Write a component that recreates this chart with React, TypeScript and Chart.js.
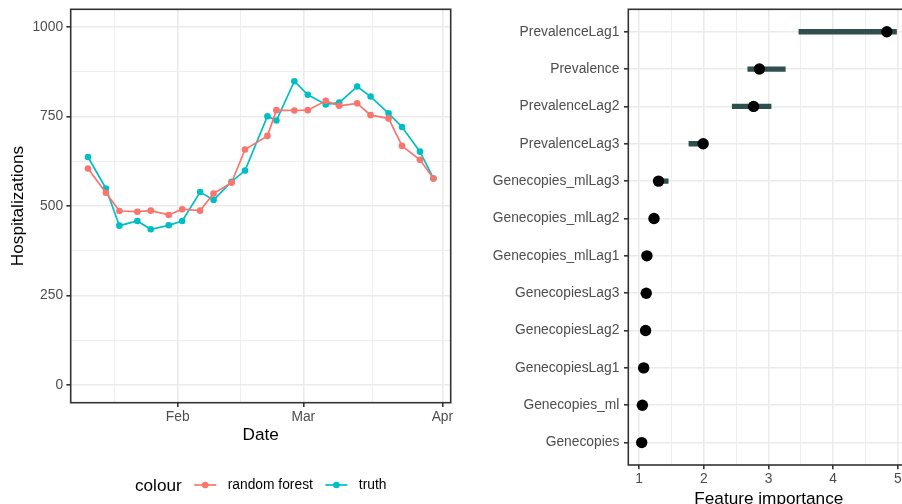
import React, { useEffect, useRef } from 'react';
import { Chart, registerables } from 'chart.js';

Chart.register(...registerables);

// ---------- Left panel data ----------
const dates = [
  '2021-01-12', '2021-01-16', '2021-01-19', '2021-01-23', '2021-01-26', '2021-01-30',
  '2021-02-02', '2021-02-06', '2021-02-09', '2021-02-13', '2021-02-16', '2021-02-21',
  '2021-02-23', '2021-02-27', '2021-03-02', '2021-03-06', '2021-03-09', '2021-03-13',
  '2021-03-16', '2021-03-20', '2021-03-23', '2021-03-27', '2021-03-30',
];
const randomForest = [605, 537, 486, 484, 487, 475, 491, 487, 535, 565, 658, 696, 768, 767, 768, 794, 780, 787, 754, 745, 668, 629, 577];
const truth = [637, 549, 445, 458, 435, 446, 458, 539, 517, 568, 599, 751, 739, 849, 811, 784, 789, 834, 806, 759, 721, 652, 577];
const dateTickDates = ['2021-02-01', '2021-03-01', '2021-04-01'];
const dateTickLabels = ['Feb', 'Mar', 'Apr'];
const hospTicks = [0, 250, 500, 750, 1000];
const hospLimits = [0, 1000];
const legendTitle = 'colour';
const legendLabels = ['random forest', 'truth'];

// ---------- Right panel data ----------
const features = [
  'PrevalenceLag1', 'Prevalence', 'PrevalenceLag2', 'PrevalenceLag3',
  'Genecopies_mlLag3', 'Genecopies_mlLag2', 'Genecopies_mlLag1', 'GenecopiesLag3',
  'GenecopiesLag2', 'GenecopiesLag1', 'Genecopies_ml', 'Genecopies',
];
const importance = [4.83, 2.86, 2.77, 1.99, 1.30, 1.23, 1.12, 1.11, 1.10, 1.07, 1.05, 1.04];
const importanceLow = [3.47, 2.68, 2.44, 1.77, 1.25, 1.19, 1.09, 1.08, 1.07, 1.04, 1.03, 1.03];
const importanceHigh = [4.98, 3.26, 3.04, 2.02, 1.45, 1.27, 1.15, 1.14, 1.13, 1.10, 1.08, 1.06];
const importanceTicks = [1, 2, 3, 4, 5];

// ---------- Styles ----------
const FONT = '"Liberation Sans", Arial, Helvetica, sans-serif';
const TICK_FONT = { family: FONT, size: 13.8 };
const TITLE_FONT = { family: FONT, size: 17.2 };
const GRID = '#EBEBEB';
const DARK = '#333333';
const TICK_TEXT = '#4D4D4D';
const RF_COLOR = '#F8766D';
const TRUTH_COLOR = '#00BFC4';
const BAR_COLOR = '#2F4F4F';
const CLEAR = 'rgba(0,0,0,0)';

const dayOf = (s: string) =>
  (Date.parse(s + 'T00:00:00Z') - Date.parse('2021-01-01T00:00:00Z')) / 86400000;

function minorBreaks(majors: number[], min: number, max: number) {
  const b = [...majors];
  const bd = b[1] - b[0];
  if (min < b[0]) b.unshift(b[0] - bd);
  if (max > b[b.length - 1]) b.push(b[b.length - 1] + bd);
  const out: number[] = [];
  for (let i = 0; i < b.length - 1; i++) {
    const m = (b[i] + b[i + 1]) / 2;
    if (m >= min && m <= max) out.push(m);
  }
  return out;
}

const expand = (lo: number, hi: number) => {
  const e = 0.05 * (hi - lo);
  return [lo - e, hi + e];
};

const panelBorder = {
  id: 'panelBorder',
  afterDatasetsDraw(chart: any) {
    const { ctx, chartArea: a } = chart;
    ctx.save();
    ctx.strokeStyle = DARK;
    ctx.lineWidth = 1.6;
    ctx.strokeRect(a.left, a.top, a.right - a.left, a.bottom - a.top);
    ctx.restore();
  },
};

const legendPlugin = {
  id: 'ggLegend',
  afterDraw(chart: any) {
    const { ctx, chartArea: a } = chart;
    const cy = 485;
    const colors = [RF_COLOR, TRUTH_COLOR];
    ctx.save();
    ctx.textBaseline = 'alphabetic';
    ctx.textAlign = 'left';
    ctx.font = `17.2px ${FONT}`;
    const wTitle = ctx.measureText(legendTitle).width;
    ctx.font = `13.8px ${FONT}`;
    const wLabels = legendLabels.map((l) => ctx.measureText(l).width);
    const keyW = 22;
    const gapTitle = 12.5;
    const gapKey = 11.5;
    const gapItem = 12.5;
    let total = wTitle + gapTitle;
    wLabels.forEach((w, i) => {
      total += keyW + gapKey + w + (i < wLabels.length - 1 ? gapItem : 0);
    });
    let x = (a.left + a.right) / 2 - total / 2;
    ctx.fillStyle = '#000';
    ctx.font = `17.2px ${FONT}`;
    ctx.fillText(legendTitle, x, cy + 5.7);
    x += wTitle + gapTitle;
    legendLabels.forEach((l, i) => {
      ctx.strokeStyle = colors[i];
      ctx.lineWidth = 1.7;
      ctx.beginPath();
      ctx.moveTo(x, cy);
      ctx.lineTo(x + keyW, cy);
      ctx.stroke();
      ctx.fillStyle = colors[i];
      ctx.beginPath();
      ctx.arc(x + keyW / 2, cy, 3.3, 0, Math.PI * 2);
      ctx.fill();
      x += keyW + gapKey;
      ctx.fillStyle = '#000';
      ctx.font = `13.8px ${FONT}`;
      ctx.fillText(l, x, cy + 4.3);
      x += wLabels[i] + gapItem;
    });
    ctx.restore();
  },
};

function LeftChart() {
  const ref = useRef<HTMLCanvasElement>(null);
  useEffect(() => {
    if (!ref.current) return;
    const days = dates.map(dayOf);
    const [xMin, xMax] = expand(Math.min(...days), Math.max(...days));
    const [yMin, yMax] = expand(hospLimits[0], hospLimits[1]);
    const xMajor = dateTickDates.map(dayOf);
    const xMinor = minorBreaks(xMajor, xMin, xMax);
    const yMinor = minorBreaks(hospTicks, yMin, yMax);
    const isXMajor = (v: number) => xMajor.indexOf(v) >= 0;
    const isYMajor = (v: number) => hospTicks.indexOf(v) >= 0;
    const line = (label: string, vals: number[], color: string) => ({
      label,
      data: days.map((d, i) => ({ x: d, y: vals[i] })),
      borderColor: color,
      backgroundColor: color,
      pointBackgroundColor: color,
      pointBorderWidth: 0,
      pointRadius: 3.3,
      borderWidth: 1.7,
      tension: 0,
    });
    const chart = new Chart(ref.current, {
      type: 'line',
      data: {
        datasets: [
          line(legendLabels[0], randomForest, RF_COLOR),
          line(legendLabels[1], truth, TRUTH_COLOR),
        ],
      },
      options: {
        responsive: false,
        animation: false,
        events: [],
        layout: { padding: { top: 9.3, left: 0, right: 19.3, bottom: 0 } },
        plugins: { legend: { display: false }, tooltip: { enabled: false } },
        scales: {
          x: {
            type: 'linear',
            min: xMin,
            max: xMax,
            bounds: 'data',
            afterBuildTicks: (s: any) => {
              s.ticks = [...xMajor, ...xMinor].sort((p, q) => p - q).map((v) => ({ value: v }));
            },
            afterFit: (s: any) => {
              s.height = 101.3;
              s.paddingLeft = 0;
              s.paddingRight = 0;
            },
            ticks: {
              autoSkip: false,
              maxRotation: 0,
              padding: 1.5,
              color: TICK_TEXT,
              font: TICK_FONT,
              callback: (v: any) => {
                const i = xMajor.indexOf(v);
                return i >= 0 ? dateTickLabels[i] : '';
              },
            },
            grid: {
              color: GRID,
              lineWidth: (c: any) => (isXMajor(c.tick?.value) ? 1.6 : 0.8),
              tickLength: 4.3,
              tickWidth: 1.6,
              tickColor: (c: any) => (isXMajor(c.tick?.value) ? DARK : CLEAR),
            },
            border: { display: false },
            title: {
              display: true,
              text: 'Date',
              color: '#000',
              font: TITLE_FONT,
              padding: { top: 0, bottom: 58.9 },
            },
          },
          y: {
            type: 'linear',
            min: yMin,
            max: yMax,
            bounds: 'data',
            afterBuildTicks: (s: any) => {
              s.ticks = [...hospTicks, ...yMinor].sort((p, q) => p - q).map((v) => ({ value: v }));
            },
            afterFit: (s: any) => {
              s.width = 70.7;
              s.paddingTop = 0;
              s.paddingBottom = 0;
            },
            ticks: {
              autoSkip: false,
              padding: 3.3,
              color: TICK_TEXT,
              font: TICK_FONT,
              callback: (v: any) => (isYMajor(v) ? String(v) : ''),
            },
            grid: {
              color: GRID,
              lineWidth: (c: any) => (isYMajor(c.tick?.value) ? 1.6 : 0.8),
              tickLength: 4.3,
              tickWidth: 1.6,
              tickColor: (c: any) => (isYMajor(c.tick?.value) ? DARK : CLEAR),
            },
            border: { display: false },
            title: {
              display: true,
              text: 'Hospitalizations',
              color: '#000',
              font: TITLE_FONT,
              padding: { top: 7.7, bottom: 0 },
            },
          },
        },
      } as any,
      plugins: [panelBorder, legendPlugin],
    });
    return () => chart.destroy();
  }, []);
  return (
    <canvas
      ref={ref}
      width={470}
      height={504}
      style={{ position: 'absolute', left: 0, top: 0, width: 470, height: 504, display: 'block' }}
    />
  );
}

function RightChart() {
  const ref = useRef<HTMLCanvasElement>(null);
  useEffect(() => {
    if (!ref.current) return;
    const [xMin, xMax] = expand(Math.min(...importanceLow), Math.max(...importanceHigh));
    const xMinor = minorBreaks(importanceTicks, xMin, xMax);
    const isXMajor = (v: number) => importanceTicks.indexOf(v) >= 0;
    const idx = features.map((_, i) => i);
    const chart = new Chart(ref.current, {
      type: 'scatter',
      data: {
        datasets: [
          {
            type: 'scatter',
            data: idx.map((i) => ({ x: importance[i], y: i })),
            pointRadius: 5.7,
            pointBackgroundColor: '#000',
            pointBorderWidth: 0,
            backgroundColor: '#000',
          } as any,
          {
            type: 'bar',
            indexAxis: 'y',
            data: idx.map((i) => ({ x: [importanceLow[i], importanceHigh[i]], y: i })),
            backgroundColor: BAR_COLOR,
            borderWidth: 0,
            barThickness: 4.7,
          } as any,
        ],
      },
      options: {
        responsive: false,
        animation: false,
        events: [],
        layout: { padding: { top: 9.3, left: 0, right: 10.7, bottom: 0 } },
        plugins: { legend: { display: false }, tooltip: { enabled: false } },
        scales: {
          x: {
            type: 'linear',
            min: xMin,
            max: xMax,
            bounds: 'data',
            offset: false,
            afterBuildTicks: (s: any) => {
              s.ticks = [...importanceTicks, ...xMinor].sort((p, q) => p - q).map((v) => ({ value: v }));
            },
            afterFit: (s: any) => {
              s.height = 55;
              s.paddingLeft = 0;
              s.paddingRight = 0;
            },
            ticks: {
              autoSkip: false,
              maxRotation: 0,
              padding: 1.5,
              color: TICK_TEXT,
              font: TICK_FONT,
              callback: (v: any) => (isXMajor(v) ? String(v) : ''),
            },
            grid: {
              offset: false,
              color: GRID,
              lineWidth: (c: any) => (isXMajor(c.tick?.value) ? 1.6 : 0.8),
              tickLength: 4.3,
              tickWidth: 1.6,
              tickColor: (c: any) => (isXMajor(c.tick?.value) ? DARK : CLEAR),
            },
            border: { display: false },
            title: {
              display: true,
              text: 'Feature importance',
              color: '#000',
              font: TITLE_FONT,
              padding: { top: 0, bottom: 10.9 },
            },
          },
          y: {
            type: 'linear',
            reverse: true,
            min: -0.6,
            max: features.length - 1 + 0.6,
            bounds: 'data',
            offset: false,
            afterBuildTicks: (s: any) => {
              s.ticks = idx.map((v) => ({ value: v }));
            },
            afterFit: (s: any) => {
              s.width = 158.3;
              s.paddingTop = 0;
              s.paddingBottom = 0;
            },
            ticks: {
              autoSkip: false,
              padding: 4.7,
              color: TICK_TEXT,
              font: TICK_FONT,
              callback: (v: any) => features[v] ?? '',
            },
            grid: {
              offset: false,
              color: GRID,
              lineWidth: 1.6,
              tickLength: 4.3,
              tickWidth: 1.6,
              tickColor: DARK,
            },
            border: { display: false },
          },
        },
      } as any,
      plugins: [panelBorder],
    });
    return () => chart.destroy();
  }, []);
  return (
    <canvas
      ref={ref}
      width={450}
      height={520}
      style={{ position: 'absolute', left: 470, top: 0, width: 450, height: 520, display: 'block' }}
    />
  );
}

export default function App() {
  return (
    <div
      style={{
        position: 'absolute',
        left: 0,
        top: 0,
        width: 902,
        height: 504,
        overflow: 'hidden',
        background: '#ffffff',
      }}
    >
      <LeftChart />
      <RightChart />
    </div>
  );
}
